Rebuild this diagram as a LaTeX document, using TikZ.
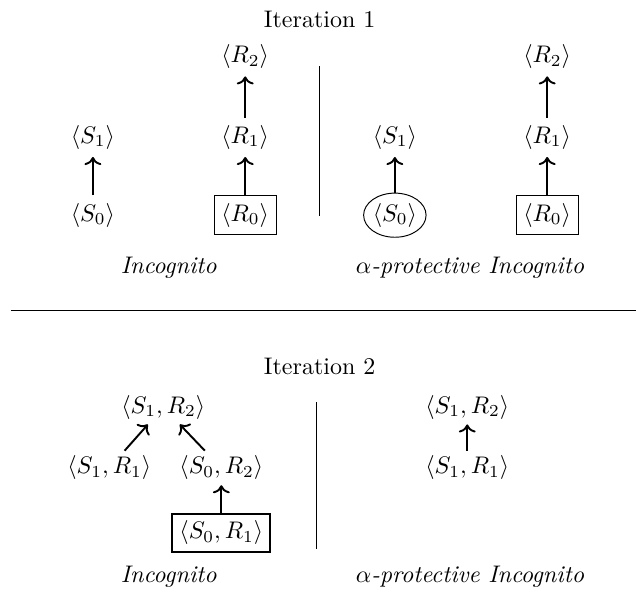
\documentclass[tikz,border=0pt]{standalone}
\usepackage{amsmath,amssymb}
\usetikzlibrary{arrows.meta,shapes.geometric}

\begin{document}
\begin{tikzpicture}[st/.style={inner sep=3pt},bx/.style={draw,inner sep=3pt},>=To,a/.style={->,thick}]
\useasboundingbox (0,0) rectangle (9.31,-8.66);
\node (it1) at (4.68,-0.29) {Iteration 1};
\node[st] (s1) at (1.36,-2.01) {$\langle S_1\rangle$};
\node[st] (s0) at (1.36,-3.15) {$\langle S_0\rangle$};
\node[st] (r2) at (3.59,-0.83) {$\langle R_2\rangle$};
\node[st] (r1) at (3.59,-2.01) {$\langle R_1\rangle$};
\node[bx] (r0) at (3.59,-3.15) {$\langle R_0\rangle$};
\node (inc1) at (2.47,-3.92) {\textit{Incognito}};
\draw[a] (s0)--(s1);
\draw[a] (r0)--(r1);
\draw[a] (r1)--(r2);
\coordinate (m1) at (4.68,-0.97);
\coordinate (m2) at (4.68,-3.16);
\draw (m1)--(m2);
\node[st] (ps1) at (5.78,-2.01) {$\langle S_1\rangle$};
\node[draw,ellipse,inner xsep=0pt,inner ysep=1.5pt] (ps0) at (5.78,-3.15) {$\langle S_0\rangle$};
\node[st] (pr2) at (8.01,-0.83) {$\langle R_2\rangle$};
\node[st] (pr1) at (8.01,-2.01) {$\langle R_1\rangle$};
\node[bx] (pr0) at (8.01,-3.15) {$\langle R_0\rangle$};
\node (pinc1) at (6.88,-3.92) {$\alpha$\textit{-protective Incognito}};
\draw[a] (ps0)--(ps1);
\draw[a] (pr0)--(pr1);
\draw[a] (pr1)--(pr2);
\coordinate (h1) at (0.16,-4.55);
\coordinate (h2) at (9.31,-4.55);
\draw (h1)--(h2);
\node (it2) at (4.68,-5.36) {Iteration 2};
\node[st,inner sep=2pt] (s1r2) at (2.39,-5.96) {$\langle S_1,R_2\rangle$};
\node[st,inner sep=2pt] (s1r1) at (1.60,-6.85) {$\langle S_1,R_1\rangle$};
\node[st,inner sep=2pt] (s0r2) at (3.24,-6.85) {$\langle S_0,R_2\rangle$};
\node[bx,thick] (s0r1) at (3.24,-7.80) {$\langle S_0,R_1\rangle$};
\node (inc2) at (2.47,-8.45) {\textit{Incognito}};
\draw[a] (s1r1)--(s1r2);
\draw[a] (s0r2)--(s1r2);
\draw[a] (s0r1)--(s0r2);
\coordinate (n1) at (4.63,-5.89);
\coordinate (n2) at (4.63,-8.04);
\draw (n1)--(n2);
\node[st,inner sep=2pt] (ps1r2) at (6.84,-5.96) {$\langle S_1,R_2\rangle$};
\node[st,inner sep=2pt] (ps1r1) at (6.84,-6.85) {$\langle S_1,R_1\rangle$};
\node (pinc2) at (6.88,-8.45) {$\alpha$\textit{-protective Incognito}};
\draw[a] (ps1r1)--(ps1r2);
\end{tikzpicture}
\end{document}
